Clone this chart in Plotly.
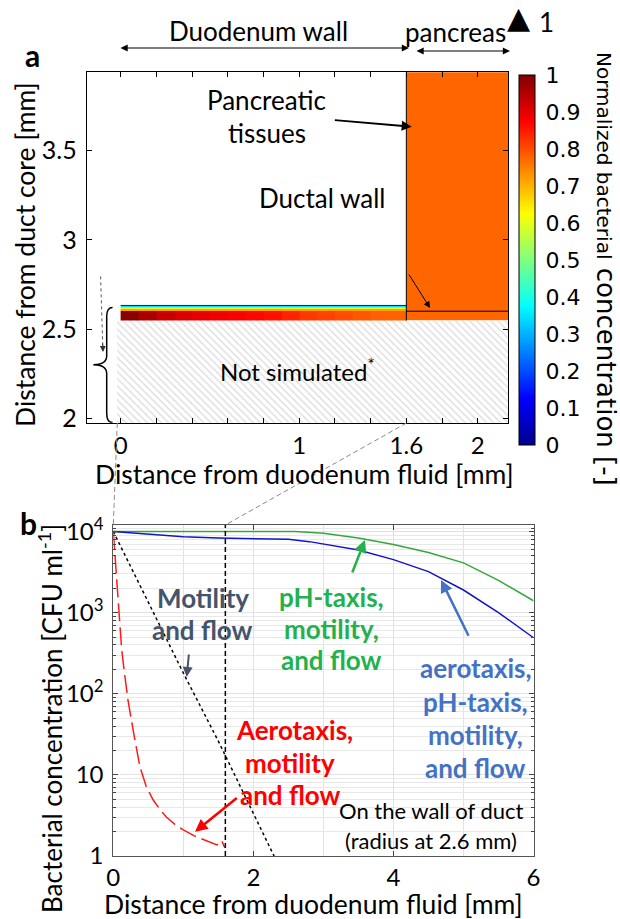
import plotly.graph_objects as go

W, H = 620, 919
def PX(px): return px / W
def PY(py): return 1 - py / H

FONT = "Lato"

# ---------------- Panel a data ----------------
strip_x_edges = [0, 0.1, 0.2, 0.3, 0.4, 0.5, 0.6, 0.7, 0.8, 0.9, 1.0, 1.1, 1.2, 1.3, 1.4, 1.5, 1.6]
strip_y_edges = [2.548, 2.604, 2.611, 2.617, 2.623, 2.629, 2.635]
strip_bottom = [0.99, 0.96, 0.93, 0.91, 0.90, 0.89, 0.88, 0.87, 0.86, 0.84, 0.82, 0.81, 0.80, 0.79, 0.78, 0.78]
strip_layer1 = [0.72] * 16
strip_layer2 = [0.62] * 16
strip_layer3 = [0.48] * 16
strip_layer4 = [0.35] * 16
strip_layer5 = [0.15] * 16

pancreas_x_edges = [1.6, 2.25]
pancreas_y_edges = [2.548, 3.95]
pancreas_z = [[0.775]]

hatch_x = [-0.02, 2.25, 2.25, -0.02, -0.02]
hatch_y = [1.90, 1.90, 2.548, 2.548, 1.90]

cbar_ticks = [0, 0.1, 0.2, 0.3, 0.4, 0.5, 0.6, 0.7, 0.8, 0.9, 1]
cbar_labels = ["0", "0.1", "0.2", "0.3", "0.4", "0.5", "0.6", "0.7", "0.8", "0.9", "1"]

a_xticks = [0, 0.2, 0.4, 0.6, 0.8, 1.0, 1.2, 1.4, 1.6, 1.8, 2.0]
a_xlabels = ["0", "", "", "", "", "1", "", "", "1.6", "", "2"]
a_yticks = [2, 2.5, 3, 3.5]
a_ylabels = ["2", "2.5", "3", "3.5"]

# ---------------- Panel b data ----------------
x_ph = [0, 1.0, 2.0, 2.6, 3.0, 3.5, 4.0, 4.5, 5.0, 5.5, 6.0]
y_ph = [10000, 10000, 10000, 10000, 9500, 8300, 6900, 5500, 4100, 2500, 1400]

x_aero_ph = [0, 0.5, 1.0, 1.5, 2.0, 2.5, 2.8, 3.0, 3.5, 4.0, 4.5, 5.0, 5.5, 6.0]
y_aero_ph = [10000, 9300, 8600, 8300, 8200, 8000, 7500, 7000, 5900, 4500, 3200, 1900, 1000, 490]

x_motility = [0, 0.5, 1.0, 1.5, 2.0, 2.4]
y_motility = [10000, 1350, 180, 26, 3.3, 0.65]

x_aero = [0, 0.02, 0.04, 0.06, 0.09, 0.12, 0.16, 0.21, 0.29, 0.38, 0.47, 0.57, 0.67,
          0.76, 0.88, 1.0, 1.15, 1.29, 1.4, 1.48, 1.52, 1.55, 1.58, 1.6]
y_aero = [10000, 5620, 3160, 1450, 630, 347, 178, 83, 33, 12.6, 7.2, 4.9, 3.7,
          3.0, 2.45, 2.1, 1.78, 1.58, 1.45, 1.37, 1.45, 1.55, 1.32, 1.26]

b_xticks = [0, 2, 4, 6]
b_yticks = [1, 10, 100, 1000, 10000]
b_ylabels = ["1", "10", "10<sup>2</sup>", "10<sup>3</sup>", "10<sup>4</sup>"]
b_minor_y = [m * d for d in (1, 10, 100, 1000) for m in range(2, 10)] + [11000]

JET = [[0, "#00008F"], [0.125, "#0000FF"], [0.375, "#00FFFF"],
       [0.625, "#FFFF00"], [0.875, "#FF0000"], [1, "#800000"]]

fig = go.Figure()

# hatched "not simulated" area
fig.add_trace(go.Scatter(
    x=hatch_x, y=hatch_y, xaxis="x", yaxis="y", mode="lines", fill="toself",
    line=dict(width=0), fillcolor="white",
    fillpattern=dict(shape="\\", fgcolor="#b5b5b5", bgcolor="white", size=5, solidity=0.25),
    hoverinfo="skip", showlegend=False))

# pancreas field
fig.add_trace(go.Heatmap(
    x=pancreas_x_edges, y=pancreas_y_edges, z=pancreas_z, xaxis="x", yaxis="y",
    colorscale=JET, zmin=0, zmax=1, showscale=False, hoverinfo="skip"))

# duct wall strip
fig.add_trace(go.Heatmap(
    x=strip_x_edges, y=strip_y_edges,
    z=[strip_bottom, strip_layer1, strip_layer2, strip_layer3, strip_layer4, strip_layer5],
    xaxis="x", yaxis="y", colorscale=JET, zmin=0, zmax=1, hoverinfo="skip",
    showscale=True,
    colorbar=dict(x=PX(519), xanchor="left", xpad=0, ypad=0,
                  y=PY(260), yanchor="middle", len=370 / H, lenmode="fraction",
                  thickness=16, thicknessmode="pixels",
                  outlinewidth=1, outlinecolor="black",
                  tickmode="array", tickvals=cbar_ticks, ticktext=cbar_labels,
                  ticks="outside", ticklen=6, tickcolor="rgba(0,0,0,0)",
                  tickfont=dict(family="DejaVu Sans", size=22, color="black"))))

# panel b curves
fig.add_trace(go.Scatter(x=x_ph, y=y_ph, xaxis="x2", yaxis="y2", mode="lines",
                         line=dict(color="#34a83a", width=1.5), showlegend=False))
fig.add_trace(go.Scatter(x=x_aero_ph, y=y_aero_ph, xaxis="x2", yaxis="y2", mode="lines",
                         line=dict(color="#1414c8", width=1.5), showlegend=False))
fig.add_trace(go.Scatter(x=x_motility, y=y_motility, xaxis="x2", yaxis="y2", mode="lines",
                         line=dict(color="black", width=1.5, dash="dot"), showlegend=False))
fig.add_trace(go.Scatter(x=x_aero, y=y_aero, xaxis="x2", yaxis="y2", mode="lines",
                         line=dict(color="#ff1a1a", width=1.5, dash="18px,6px"), showlegend=False))

tickfont_a = dict(family=FONT, size=24, color="black")
tickfont_b = dict(family=FONT, size=24, color="black")

fig.update_layout(
    width=W, height=H, margin=dict(l=0, r=0, t=0, b=0, autoexpand=False),
    paper_bgcolor="white", plot_bgcolor="white", showlegend=False,
    font=dict(family=FONT, color="black"),
    xaxis=dict(domain=[PX(86.7), PX(508.3)], range=[-0.19, 2.171], anchor="y",
               tickmode="array", tickvals=a_xticks, ticktext=a_xlabels,
               ticks="inside", ticklen=5, tickcolor="black", mirror="ticks",
               showline=True, linecolor="black", linewidth=1, showgrid=False, zeroline=False,
               tickfont=tickfont_a, ticklabelstandoff=1),
    yaxis=dict(domain=[PY(422.7), PY(72.3)], range=[1.975, 3.939], anchor="x",
               tickmode="array", tickvals=a_yticks, ticktext=a_ylabels,
               ticks="inside", ticklen=5, tickcolor="black", mirror="ticks",
               showline=True, linecolor="black", linewidth=1, showgrid=False, zeroline=False,
               tickfont=dict(family=FONT, size=25, color="black"), ticklabelstandoff=4),
    xaxis2=dict(domain=[PX(113.3), PX(533.5)], range=[0, 6], anchor="y2",
                tickmode="array", tickvals=b_xticks,
                ticks="inside", ticklen=5, tickcolor="#444", mirror="ticks",
                showline=True, linecolor="#555", linewidth=1,
                showgrid=True, gridcolor="#e2e2e2", gridwidth=1, zeroline=False,
                minor=dict(tickvals=[1, 3, 5], showgrid=True, gridcolor="#e2e2e2", ticks=""),
                tickfont=tickfont_b, ticklabelstandoff=0),
    yaxis2=dict(domain=[PY(856), PY(525)], type="log", range=[0, 4.08], anchor="x2",
                tickmode="array", tickvals=b_yticks, ticktext=b_ylabels,
                ticks="inside", ticklen=5, tickcolor="#444", mirror="ticks",
                showline=True, linecolor="#555", linewidth=1,
                showgrid=True, gridcolor="#e2e2e2", gridwidth=1, zeroline=False,
                minor=dict(tickvals=b_minor_y, showgrid=True, gridcolor="#e8e8e8",
                           ticks="inside", ticklen=3, tickcolor="#444"),
                tickfont=tickfont_b, ticklabelstandoff=4),
)

shapes = [
    # panel a lines
    dict(type="line", xref="x", yref="y", x0=1.6, x1=1.6, y0=2.548, y1=3.939,
         line=dict(color="black", width=1)),
    dict(type="line", xref="x", yref="y", x0=1.6, x1=2.171, y0=2.6, y1=2.6,
         line=dict(color="black", width=1)),
    # brace
    dict(type="path", xref="x", yref="y",
         path="M -0.045,2.62 Q -0.078,2.62 -0.078,2.57 L -0.078,2.35 "
              "Q -0.078,2.30 -0.153,2.30 Q -0.078,2.30 -0.078,2.25 L -0.078,2.03 "
              "Q -0.078,1.976 -0.045,1.976",
         line=dict(color="black", width=1.5)),
    # dotted arrow shaft
    dict(type="line", xref="x", yref="y", x0=-0.112, x1=-0.1, y0=2.795, y1=2.40,
         line=dict(color="#555", width=1, dash="dot")),
    # panel b dashed vertical at 1.6
    dict(type="line", xref="x2", yref="y2 domain", x0=1.6, x1=1.6, y0=0, y1=1,
         line=dict(color="black", width=1.5, dash="5px,3px")),
    # grey connectors
    dict(type="line", xref="paper", yref="paper", x0=PX(117.3), y0=PY(423), x1=PX(113.3), y1=PY(525),
         line=dict(color="#8a8a8a", width=1, dash="5px,3px")),
    dict(type="line", xref="paper", yref="paper", x0=PX(406.5), y0=PY(423), x1=PX(225.3), y1=PY(525),
         line=dict(color="#8a8a8a", width=1, dash="5px,3px")),
]
fig.update_layout(shapes=shapes)

ann = []
def text(px, py, s, size=26, color="black", bold=False, family=FONT, angle=0, xanchor="center"):
    if bold:
        s = "<b>" + s + "</b>"
    ann.append(dict(x=PX(px), y=PY(py), xref="paper", yref="paper", text=s, showarrow=False,
                    xanchor=xanchor, yanchor="middle", textangle=angle,
                    font=dict(family=family, size=size, color=color)))

def arrow(hx, hy, tx, ty, color="black", width=2, head=2, size=1.0, both=False):
    ann.append(dict(x=PX(hx), y=PY(hy), xref="paper", yref="paper", text="",
                    showarrow=True, ax=tx - hx, ay=ty - hy, axref="pixel", ayref="pixel",
                    arrowhead=head, arrowsize=size, arrowwidth=width, arrowcolor=color,
                    startarrowhead=head, startarrowsize=size,
                    arrowside="end+start" if both else "end", standoff=0, startstandoff=0))

# panel labels
text(32, 55, "a", size=30, bold=True)
text(28, 523, "b", size=30, bold=True)

# top labels
text(258, 31, "Duodenum wall", size=26)
text(455, 32, "pancreas", size=26)
arrow(409, 48, 119, 48, width=1.2, head=2, size=1.2, both=True)
arrow(510, 51, 415, 51, width=1.2, head=2, size=1.2, both=True)
text(518, 18, "▲", size=30, family="DejaVu Sans")
text(546, 22, "1", size=26)

# panel a texts
text(266.7, 100, "Pancreatic", size=26)
text(266.7, 133, "tissues", size=26)
text(321.7, 198, "Ductal wall", size=26)
text(297, 370, "Not simulated<sup>*</sup>", size=24)
arrow(411.7, 126.7, 333.3, 120, width=2, head=2, size=1)
arrow(430, 308, 408, 273, width=1, head=2, size=1.3)
arrow(103, 352, 102.6, 342, color="#333", width=1, head=2, size=1.2)

# axis titles
text(25, 255, "Distance from duct core [mm]", size=26.5, angle=-90)
text(304.7, 473.5, "Distance from duodenum fluid [mm]", size=26.5)
text(50, 719, "Bacterial concentration [CFU ml<sup>-1</sup>]", size=26, angle=-90)
text(313, 903.5, "Distance from duodenum fluid [mm]", size=26.5)

# colorbar title
ann.append(dict(x=PX(606), y=PY(269), xref="paper", yref="paper", showarrow=False,
                xanchor="center", yanchor="middle", textangle=90,
                text="<span style='font-size:20px'>Normalized bacterial</span> concentration [-]",
                font=dict(family="DejaVu Sans", size=26, color="black")))

# panel b texts
C_MOT, C_GRN, C_BLU, C_RED = "#44546A", "#22b14c", "#4472C4", "#ff0000"
text(203, 598, "Motility", size=26, color=C_MOT, bold=True)
text(203, 630, "and flow", size=26, color=C_MOT, bold=True)
arrow(186.7, 677, 189, 653, color=C_MOT, width=2, head=2, size=1)

text(331.7, 597, "pH-taxis,", size=26, color=C_GRN, bold=True)
text(331.7, 628.5, "motility,", size=26, color=C_GRN, bold=True)
text(331.7, 660, "and flow", size=26, color=C_GRN, bold=True)
arrow(365, 540, 351.7, 574, color=C_GRN, width=2.5, head=2, size=1)

text(475.8, 668.3, "aerotaxis,", size=26, color=C_BLU, bold=True)
text(475.8, 701.7, "pH-taxis,", size=26, color=C_BLU, bold=True)
text(475.8, 735, "motility,", size=26, color=C_BLU, bold=True)
text(475.8, 768.3, "and flow", size=26, color=C_BLU, bold=True)
arrow(441, 580, 469.3, 637.3, color=C_BLU, width=2.5, head=2, size=1)

text(294, 730, "Aerotaxis,", size=26, color=C_RED, bold=True)
text(290, 763, "motility", size=26, color=C_RED, bold=True)
text(290, 795, "and flow", size=26, color=C_RED, bold=True)
arrow(195, 831.7, 238.3, 796.7, color=C_RED, width=2.5, head=2, size=1)

text(431.7, 810, "On the wall of duct", size=22)
text(431, 840, "(radius at 2.6 mm)", size=22)

fig.update_layout(annotations=ann)

fig.write_html("out.html", config={"displayModeBar": False},
               post_script="document.body.style.margin='0px';document.body.style.padding='0px';")
